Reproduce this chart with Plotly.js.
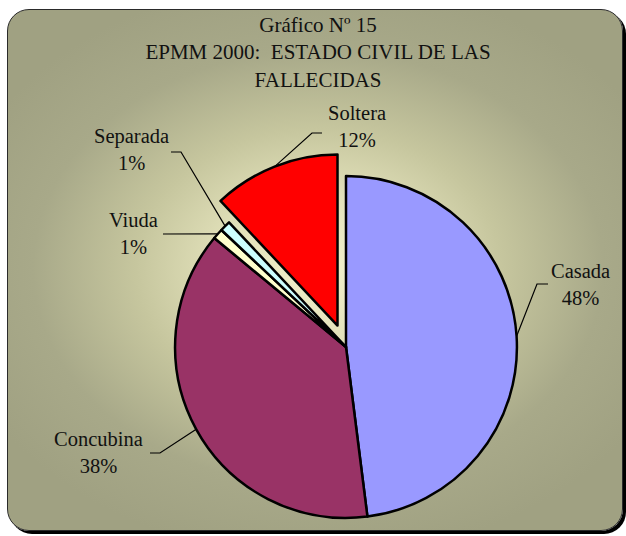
<!DOCTYPE html>
<html>
<head>
<meta charset="utf-8">
<script src="https://cdn.plot.ly/plotly-3.0.1.min.js"></script>
<style>
  html, body { margin:0; padding:0; width:626px; height:536px; overflow:hidden; background:#ffffff; }
  #bg { position:absolute; left:7px; top:9px; width:614px; height:520px; border:1px solid #2a2a2a; border-radius:22px;
        box-shadow: 3px 3px 0 #000;
        background: radial-gradient(ellipse 380px 290px at 310px 258px, #F3F1CB 0%, #E2E1BA 25%, #C6C69E 48%, #A8A989 75%, #A0A182 100%); }
  #chart { position:absolute; left:0; top:0; width:626px; height:560px; }
</style>
</head>
<body>
<div id="bg"></div>
<div id="chart"></div>
<script>
// ---- data ----
const categories = ["Casada", "Concubina", "Viuda", "Separada", "Soltera"];
const values = [48, 38, 1, 1, 12];
const sliceColors = ["#9999FF", "#993366", "#FFFFCC", "#CCFFFF", "#FF0000"];
const pulls = [0, 0, 0, 0, 0.135];
const titleLines = ["Gráfico Nº 15", "EPMM 2000:  ESTADO CIVIL DE LAS", "FALLECIDAS"];

// ---- layout constants ----
const W = 626, H = 560;
const dom = { x: [152 / W, 540 / W], y: [19 / H, 407 / H] };
const FONT = "Liberation Serif, Times New Roman, serif";

// label positions (pixels) and leader elbows / ends (layout only)
const labelPos = [[580, 284], [98, 452], [133, 233], [131, 150], [357, 127]];
const leaderPts = [
  [[537, 284], [548, 284]],
  [[160, 453], [150, 453]],
  [[163, 234], [163, 234]],
  [[181, 152], [171, 152]],
  [[312, 133], [322, 133]]
];

// geometry of pie (as plotly computes it)
const maxPull = Math.max(...pulls);
const cx = W * (dom.x[0] + dom.x[1]) / 2;
const cy = H * (1 - (dom.y[0] + dom.y[1]) / 2);
const r = Math.min(W * (dom.x[1] - dom.x[0]), H * (dom.y[1] - dom.y[0])) / 2 / (1 + maxPull);

const total = values.reduce((a, b) => a + b, 0);
const px = x => x / W, py = y => 1 - y / H;

const annotations = [];
const shapes = [];
let cum = 0;
values.forEach((v, i) => {
  const mid = (cum + v / 2) / total * 2 * Math.PI; // clockwise from top
  cum += v;
  const rr = r * (1 + pulls[i]);
  const ex = cx + rr * Math.sin(mid), ey = cy - rr * Math.cos(mid);
  const pct = Math.round(v / total * 100) + "%";
  annotations.push({
    x: px(labelPos[i][0]), y: py(labelPos[i][1]), xref: "paper", yref: "paper",
    text: categories[i] + "<br>" + pct, showarrow: false, xanchor: "center", yanchor: "middle",
    align: "center", font: { family: FONT, size: 20.5, color: "#111" }
  });
  const [e1, e2] = leaderPts[i];
  shapes.push({
    type: "path", xref: "paper", yref: "paper",
    path: `M ${px(ex)} ${py(ey)} L ${px(e1[0])} ${py(e1[1])} L ${px(e2[0])} ${py(e2[1])}`,
    line: { color: "#000", width: 1.2 }
  });
});

const trace = {
  type: "pie",
  labels: categories,
  values: values,
  sort: false,
  direction: "clockwise",
  rotation: 0,
  pull: pulls,
  marker: { colors: sliceColors, line: { color: "#000", width: 2.5 } },
  textinfo: "none",
  hoverinfo: "label+percent",
  domain: dom,
  showlegend: false
};

const layout = {
  width: W, height: H,
  margin: { l: 0, r: 0, t: 0, b: 0 },
  paper_bgcolor: "rgba(0,0,0,0)",
  plot_bgcolor: "rgba(0,0,0,0)",
  title: {
    text: titleLines.join("<br>"),
    x: 318 / W, xanchor: "center", xref: "paper",
    y: 1 - 32 / H, yanchor: "top",
    font: { family: FONT, size: 21, color: "#111" }
  },
  annotations: annotations,
  shapes: shapes,
  showlegend: false
};

Plotly.newPlot("chart", [trace], layout, { displayModeBar: false, staticPlot: true });
</script>
</body>
</html>
